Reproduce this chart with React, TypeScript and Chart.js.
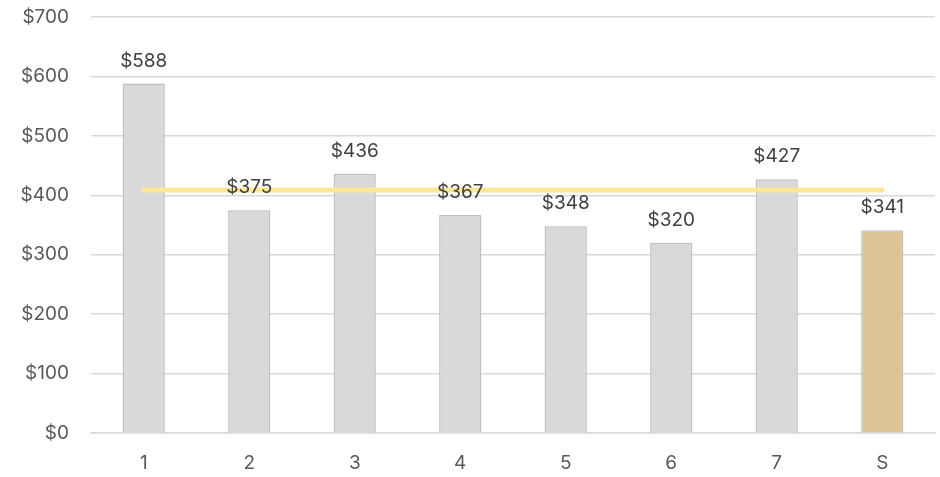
import React, { useEffect, useRef } from "react";
import { Chart, registerables } from "chart.js";

Chart.register(...registerables);

const categories = ["1", "2", "3", "4", "5", "6", "7", "S"];
const values = [588, 375, 436, 367, 348, 320, 427, 341];
const averageLine = [408.7, 408.7, 408.7, 408.7, 408.7, 408.7, 408.7, 408.7];
const barColors = ["#d9d9d9", "#d9d9d9", "#d9d9d9", "#d9d9d9", "#d9d9d9", "#d9d9d9", "#d9d9d9", "#dbc596"];
const yTicks = [0, 100, 200, 300, 400, 500, 600, 700];

const FONT = "Inter, 'Liberation Sans', Arial, sans-serif";
const FS = 19;

const labelPlugin = {
  id: "barLabels",
  afterDatasetsDraw(chart: any) {
    const meta = chart.getDatasetMeta(1);
    const ctx = chart.ctx;
    ctx.save();
    ctx.font = `${FS}px ${FONT}`;
    ctx.fillStyle = "#404040";
    ctx.textAlign = "center";
    ctx.textBaseline = "alphabetic";
    meta.data.forEach((el: any, i: number) => {
      ctx.fillText("$" + values[i], el.x, el.y - 17);
    });
    ctx.restore();
  },
};

export default function App() {
  const ref = useRef<HTMLCanvasElement>(null);
  useEffect(() => {
    document.body.style.margin = "0";
    const chart = new Chart(ref.current!, {
      data: {
        labels: categories,
        datasets: [
          {
            type: "line",
            data: averageLine,
            borderColor: "#ffe699",
            borderWidth: 5,
            borderCapStyle: "round",
            pointRadius: 0,
            order: 0,
          } as any,
          {
            type: "bar",
            data: values,
            backgroundColor: barColors,
            borderColor: "#bfbfbf",
            borderWidth: 1.5,
            barPercentage: 0.4,
            categoryPercentage: 1,
            order: 1,
          } as any,
        ],
      },
      options: {
        animation: false,
        responsive: false,
        layout: { padding: { top: 17, right: 5, left: 0, bottom: 0 } },
        plugins: { legend: { display: false }, tooltip: { enabled: false } },
        scales: {
          x: {
            grid: { display: false, drawTicks: false },
            border: { color: "#d9d9d9", width: 1.5 },
            ticks: { color: "#595959", font: { family: FONT, size: FS }, padding: 19 },
            afterFit: (s: any) => { s.height = 44; s.paddingLeft = 0; s.paddingRight = 0; },
          },
          y: {
            min: 0,
            max: 700,
            afterBuildTicks: (s: any) => { s.ticks = yTicks.map((v) => ({ value: v })); },
            grid: { color: "#d9d9d9", lineWidth: 1.5, drawTicks: false },
            border: { display: false },
            ticks: {
              color: "#595959",
              font: { family: FONT, size: FS },
              padding: 22,
              callback: (v: any) => "$" + v,
            },
            afterFit: (s: any) => { s.width = 91; s.paddingTop = 0; s.paddingBottom = 0; },
          },
        },
      },
      plugins: [labelPlugin],
    });
    return () => chart.destroy();
  }, []);
  return (
    <div style={{ width: 940, height: 477 }}>
      <canvas ref={ref} width={940} height={477} style={{ display: "block" }} />
    </div>
  );
}
